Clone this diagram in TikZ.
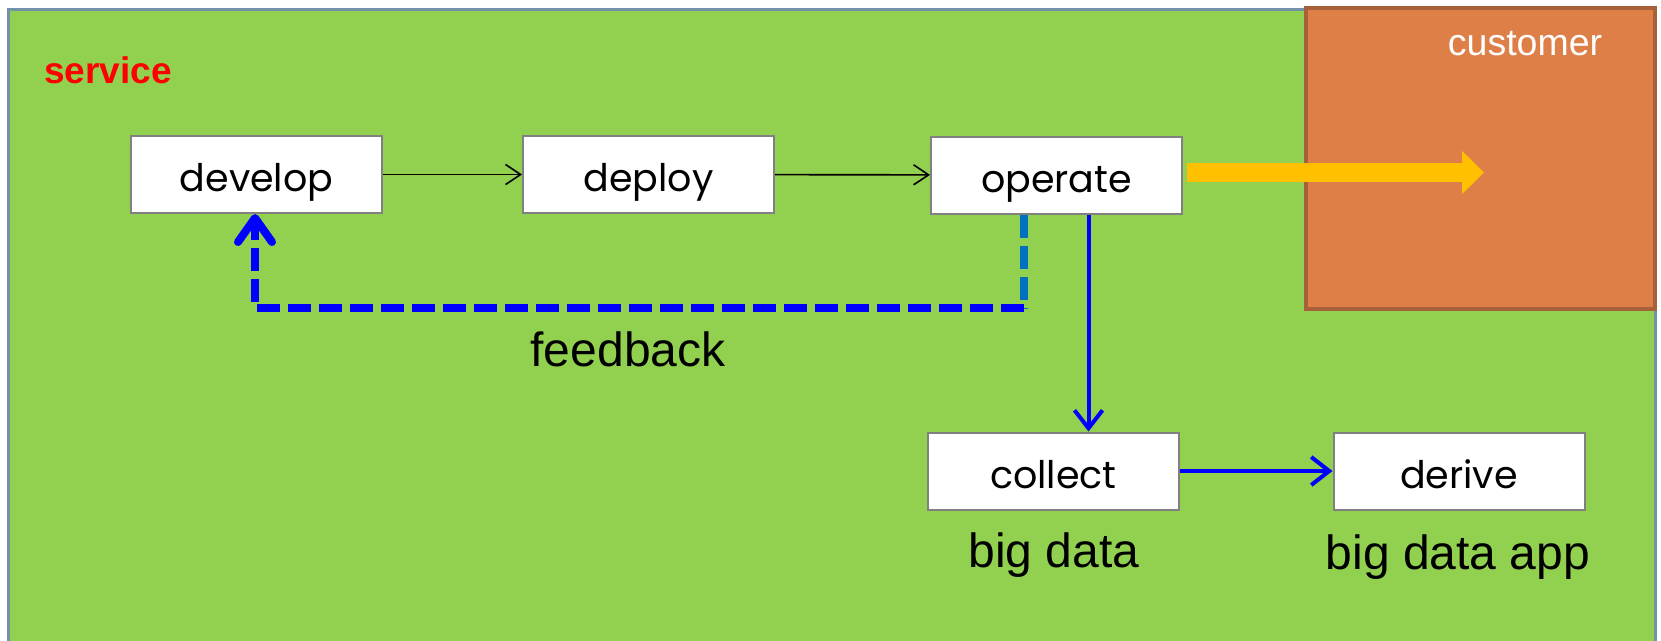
\documentclass[tikz,border=0pt]{standalone}
\usepackage{fontspec}
\setmainfont{Liberation Sans}
\newfontfamily\boxfont{Poppins}
\usetikzlibrary{arrows.meta}
\definecolor{bggreen}{HTML}{92D050}
\definecolor{bgborder}{HTML}{7391A8}
\definecolor{custfill}{HTML}{DD7F47}
\definecolor{custborder}{HTML}{A7603A}
\definecolor{arrowyellow}{HTML}{FFC000}
\definecolor{fbcyan}{HTML}{0070C0}
\definecolor{boxborder}{HTML}{808080}
\definecolor{pureblue}{HTML}{0000FF}
\begin{document}
\begin{tikzpicture}[x=1pt,y=-1pt,
  stepbox/.style={draw=boxborder, line width=2pt, fill=white, minimum width=251pt, minimum height=77pt, inner sep=0pt, text height=40pt, text depth=6pt, font=\boxfont\fontsize{38}{46}\selectfont},
  flow/.style={-{Straight Barb[length=15pt,width=20pt]}, line width=1.6pt, black},
  blueflow/.style={-{Straight Barb[length=18pt,width=28pt]}, line width=4pt, pureblue},
  fbline/.style={line width=8pt, dash pattern=on 23pt off 8pt},
  lbl/.style={font=\fontsize{48}{56}\selectfont, anchor=base, inner sep=0pt}]
\useasboundingbox (0,0) rectangle (1661,640);
\path[fill=bggreen, draw=bgborder, line width=3pt] (8,9) rectangle (1655,660);
\node[draw=custborder, fill=custfill, line width=4pt, minimum width=349pt, minimum height=301pt, inner sep=0pt] (cust) at (1480,158) {};
\node[text=white, font=\fontsize{37.5}{44}\selectfont, anchor=base, inner sep=0pt] (custlbl) at (1525,55) {customer};
\node[text=red, font=\bfseries\fontsize{37}{44}\selectfont, anchor=base, inner sep=0pt] (svc) at (108,83) {service};
\node[stepbox] (develop) at (256.5,174.5) {develop};
\node[stepbox] (deploy) at (648.5,174.5) {deploy};
\node[stepbox] (operate) at (1056.5,175) {operate};
\node[stepbox] (collect) at (1053.5,471) {collect};
\node[stepbox] (derive) at (1459,471) {derive};
\node[lbl] (fblbl) at (628,366) {feedback};
\node[lbl] (bdlbl) at (1054,567) {big data};
\node[lbl] (bdalbl) at (1458,569) {big data app};
\draw[flow] (develop) -- (deploy);
\draw[flow] (deploy) -- (operate);
\coordinate (ytip) at (1484,172.5);
\draw[arrowyellow, line width=19pt, -{Triangle[length=22pt,width=42pt]}] ([xshift=4pt,yshift=2.5pt]operate.east) -- (ytip);
\draw[blueflow] ([xshift=32pt]operate.south) -- ([xshift=32pt]operate.south |- collect.north);
\draw[blueflow] (collect.east) -- (derive.west);
\coordinate (fbA) at (1024,308);
\coordinate (fbB) at (255,308);
\draw[fbline, fbcyan] ([xshift=-32.5pt]operate.south) -- (fbA);
\draw[fbline, pureblue, -{Straight Barb[round, length=24pt, width=34pt]}] (fbA) -- (fbB) -- (develop.south -| fbB);
\end{tikzpicture}
\end{document}
